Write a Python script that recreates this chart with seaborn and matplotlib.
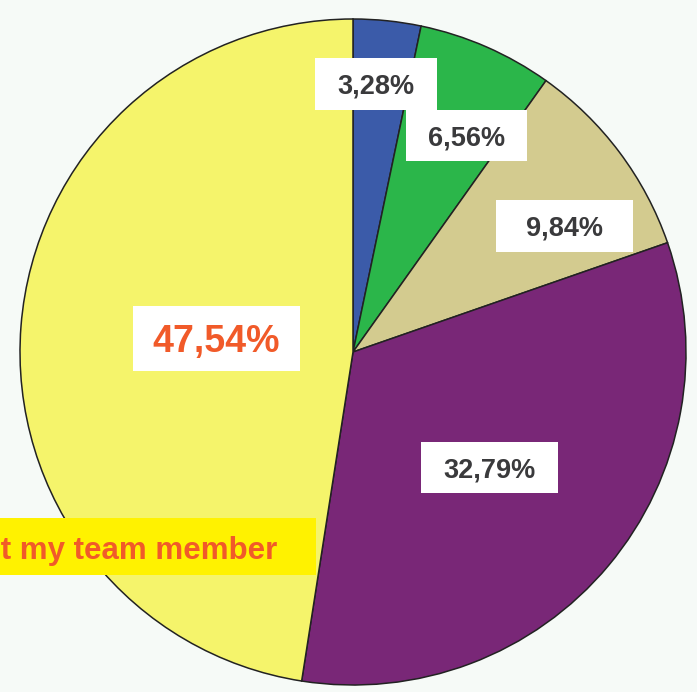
import seaborn as sns
import matplotlib.pyplot as plt
from matplotlib.patches import Rectangle

sns.set_style("white")
plt.rcParams["font.family"] = ["Liberation Sans", "DejaVu Sans"]

# Data
categories = ["A", "B", "C", "D", "Not my team member"]
shares = [3.28, 6.56, 9.84, 32.79, 47.54]
labels = ["3,28%", "6,56%", "9,84%", "32,79%", "47,54%"]
colors = ["#3b5ba9", "#2bb64a", "#d3cb8f", "#792777", "#f5f46b"]

W, H = 697, 692
BG = "#f6faf7"

fig = plt.figure(figsize=(W / 100, H / 100), dpi=100, facecolor=BG)
ax = fig.add_axes([0, 0, 1, 1])
ax.set_facecolor(BG)

# pie in pixel-like coordinates (y up)
cx, cy, r = 353, H - 352, 333
ax.pie(shares, colors=colors, startangle=90, counterclock=False,
       center=(cx, cy), radius=r, frame=True,
       wedgeprops=dict(edgecolor="#222222", linewidth=1.1))
ax.set_xlim(0, W)
ax.set_ylim(0, H)
ax.set_aspect("equal")
ax.axis("off")

# label boxes (pixel layout: centre x, centre y from top, width, height)
box_layout = [
    (376, 84, 122, 52),
    (466.5, 135.5, 121, 51),
    (564.5, 226, 137, 52),
    (489.5, 467.5, 137, 51),
    (216.5, 338.5, 167, 65),
]
text_colors = ["#3a3a3c", "#3a3a3c", "#3a3a3c", "#3a3a3c", "#f15a29"]
text_sizes = [19.5, 19.5, 19.5, 19.5, 27]

for lab, (bx, by, bw, bh), tc, ts in zip(labels, box_layout, text_colors, text_sizes):
    yy = H - by
    ax.add_patch(Rectangle((bx - bw / 2, yy - bh / 2), bw, bh,
                           facecolor="white", edgecolor="none", zorder=3))
    ax.text(bx, yy, lab, ha="center", va="center_baseline", fontsize=ts,
            fontweight="bold", color=tc, zorder=4)

# category callout for the largest slice (clipped at the left edge, as in the source)
ax.add_patch(Rectangle((-400, H - 575), 716, 57,
                       facecolor="#fff200", edgecolor="none", zorder=3))
ax.text(277, H - 547, categories[-1], ha="right", va="center_baseline",
        fontsize=22.5, fontweight="bold", color="#f15a29", zorder=4)

fig.savefig("out.png", dpi=100, facecolor=BG)
